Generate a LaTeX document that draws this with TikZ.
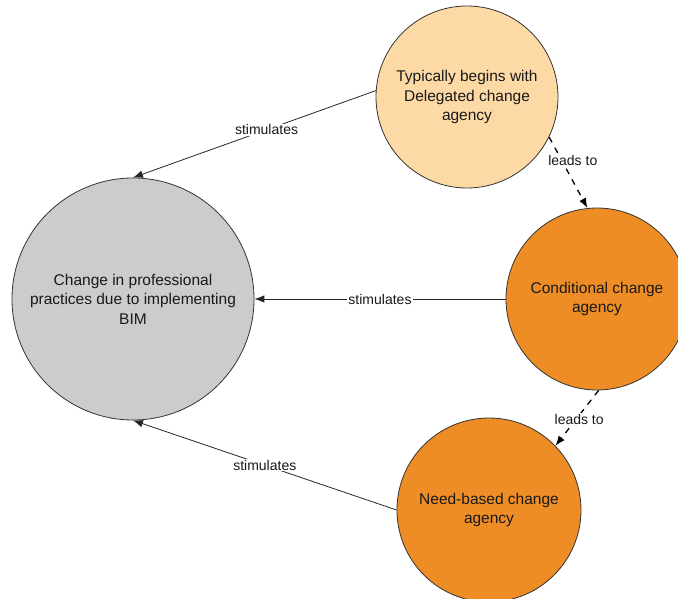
\documentclass[tikz,border=0pt]{standalone}
\usepackage{fontspec}
\setmainfont{Liberation Sans}
\usepackage{xcolor}
\usepackage{tikz}
\usetikzlibrary{arrows.meta}
\usetikzlibrary{shapes,shapes.geometric}
\tikzset{>=stealth}

\definecolor{bimgrey}{HTML}{CCCCCC}
\definecolor{delegpeach}{HTML}{FDDAA5}
\definecolor{agencyorange}{HTML}{EE8D25}

\tikzset{
  agency/.style={circle, draw=black!80, line width=0.8pt, inner sep=0pt, align=center,
    text=black!90, font=\fontsize{15.5}{19.5}\selectfont},
  stim/.style={-{Latex[length=3.5mm]}, line width=0.8pt, black!85},
  leads/.style={-{Latex[length=3.5mm]}, dash pattern=on 6pt off 6pt, line width=1.3pt},
  edgelabel/.style={fill=white, inner sep=1pt, text=black!90, font=\fontsize{14}{17}\selectfont}
}

\begin{document}
\begin{tikzpicture}[x=1pt, y=-1pt]
        \useasboundingbox (0,0) rectangle (678,599);
        % Circles
        \node[agency, fill=bimgrey, minimum size=242pt] (bim) at (133,299)
          {Change in professional\\practices due to implementing\\BIM};
        \node[agency, fill=delegpeach, minimum size=182pt] (deleg) at (467,97)
          {Typically begins with\\Delegated change\\agency};
        \node[agency, fill=agencyorange, minimum size=182pt] (cond) at (597,299)
          {Conditional change\\agency};
        \node[agency, fill=agencyorange, minimum size=184pt] (need) at (489,510)
          {Need-based change\\agency};

        % stimulates
        \draw [stim] (deleg.176) -- (bim.north) node[edgelabel, pos=0.45] {stimulates};
        \draw [stim] (cond.west) -- (bim.east) node[edgelabel, midway] {stimulates};
        \draw [stim] (need.west) -- (bim.south) node[edgelabel, midway] {stimulates};

        % leads to
        \draw [leads] (deleg.-26) -- (cond.96) node[edgelabel, pos=0.33, xshift=11pt] {leads to};
        \draw [leads] (cond.-89) -- (need.44) node[edgelabel, pos=0.52, xshift=3pt] {leads to};
      \end{tikzpicture}
\end{document}
